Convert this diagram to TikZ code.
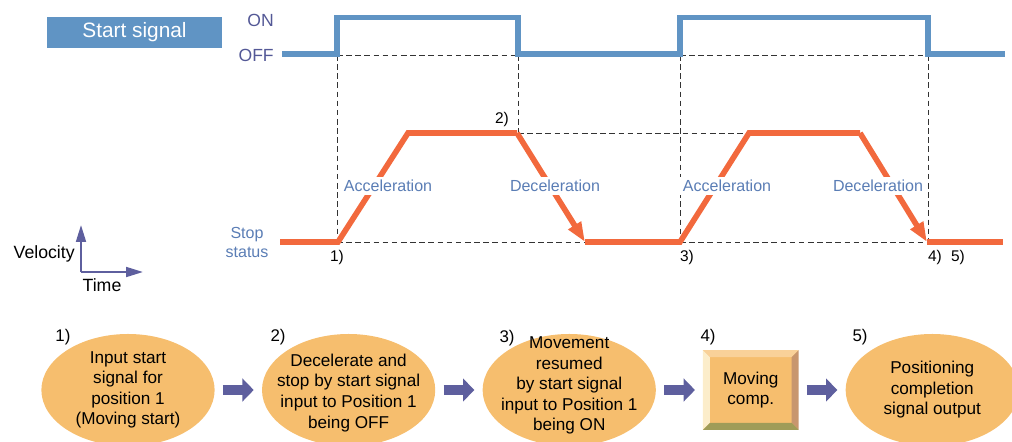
\documentclass[tikz,border=0pt]{standalone}
\usepackage{fontspec}
\setmainfont{Liberation Sans}
\usetikzlibrary{arrows.meta,positioning,shapes.geometric,calc}
\definecolor{sigblue}{HTML}{6094C4}
\definecolor{labelblue}{HTML}{5A7DB5}
\definecolor{slate}{HTML}{535896}
\definecolor{velorange}{HTML}{F2693D}
\definecolor{stepfill}{HTML}{F6BE6E}
\definecolor{flowblue}{HTML}{5E5F9E}

\begin{document}
\begin{tikzpicture}[x=0.025cm,y=-0.025cm,
  node distance=1.17cm,
  sigline/.style={line width=3.6pt,color=sigblue},
  velline/.style={line width=4pt,color=velorange},
  velarrow/.style={velline,-{Triangle[length=14pt,width=10pt]}},
  guide/.style={line width=0.6pt,color=black!80,dash pattern=on 4pt off 2.5pt},
  phase/.style={font=\fontsize{11.4}{13}\selectfont,text=labelblue,fill=white,inner sep=2.5pt},
  stepno/.style={font=\fontsize{11}{13}\selectfont,inner sep=0pt},
  stepell/.style={ellipse,fill=stepfill,minimum width=4.33cm,minimum height=2.8cm,inner sep=0pt},
  steptext/.style={align=center,font=\fontsize{12.2}{14.6}\selectfont},
  flow/.style={-{Triangle[length=8pt,width=16pt]},line width=7pt,color=flowblue,
    shorten <=5.7pt,shorten >=5.7pt},
  axis/.style={-{Triangle[length=12pt,width=7pt]},line width=1.5pt,color=flowblue}
]
  \useasboundingbox (0,0) rectangle (1012,441);
  \clip (0,0) rectangle (1012,441);

  \node[fill=sigblue,text=white,minimum width=4.375cm,minimum height=0.775cm,
    font=\fontsize{14.8}{16}\selectfont] (title) at (134.5,32.5) {Start signal};
  \node[anchor=east,text=slate,font=\fontsize{12.5}{14}\selectfont,inner sep=0pt] (on) at (274,20) {ON};
  \node[anchor=east,text=slate,font=\fontsize{12.5}{14}\selectfont,inner sep=0pt] (off) at (274,55) {OFF};

  \draw[guide] (337,55) -- (518,55) (680,55) -- (928,55);
  \draw[guide] (337,55) -- (337,242) (518,55) -- (518,133) (680,55) -- (680,242) (928,55) -- (928,242);
  \draw[guide] (518,133) -- (748,133);
  \draw[guide] (337,242) -- (585,242) (680,242) -- (928,242);

  \draw[sigline] (282,54) -- (337,54) -- (337,17.5) -- (518,17.5) -- (518,54)
    -- (680,54) -- (680,17.5) -- (928,17.5) -- (928,54) -- (1005,54);

  \coordinate (v0) at (280,242);
  \coordinate (v1) at (338,242);
  \coordinate (v2) at (408,133);
  \coordinate (v3) at (517,133);
  \coordinate (v4) at (585,242);
  \coordinate (v5) at (680,242);
  \coordinate (v6) at (749,133);
  \coordinate (v7) at (860,133);
  \coordinate (v8) at (927,242);
  \coordinate (v9) at (1003,242);
  \draw[velline] (v0) -- (v1) -- (v2) -- (v3);
  \draw[velarrow] (v3) -- (v4);
  \draw[velline] (v4) -- (v5) -- (v6) -- (v7);
  \draw[velarrow] (v7) -- (v8);
  \draw[velline] (v8) -- (v9);

  \node[phase] (acc1) at (388,186) {Acceleration};
  \node[phase] (dec1) at (555,186) {Deceleration};
  \node[phase] (acc2) at (727,186) {Acceleration};
  \node[phase] (dec2) at (878,186) {Deceleration};

  \node[align=center,text=labelblue,font=\fontsize{11.4}{13.5}\selectfont] (stop) at (247,242) {Stop\\status};
  \node[stepno] (p1) at (337,257) {1)};
  \node[stepno] (p2) at (502,119) {2)};
  \node[stepno] (p3) at (687,257) {3)};
  \node[stepno] (p4) at (935,257) {4)};
  \node[stepno] (p5) at (958,257) {5)};

  \coordinate (origin) at (81,272);
  \draw[axis] (origin) -- (81,225);
  \draw[axis] (origin) -- (143,272);
  \node[anchor=east,font=\fontsize{12.6}{14}\selectfont,inner sep=0pt] (vel) at (75,254) {Velocity};
  \node[font=\fontsize{12.6}{14}\selectfont,inner sep=0pt] (time) at (102,285) {Time};

  \node[stepell] (s1) at (128,390) {};
  \node[stepell,right=of s1] (s2) {};
  \node[stepell,right=of s2] (s3) {};
  \node[rectangle,fill=stepfill,minimum width=2.375cm,minimum height=1.975cm,right=of s3] (s4) {};
  \node[stepell,right=of s4] (s5) {};

  \fill[fill=stepfill!70!white] (s4.north west) -- (s4.north east) -- ([shift={(-7,7)}]s4.north east) -- ([shift={(7,7)}]s4.north west) -- cycle;
  \fill[fill=yellow!15!stepfill!30!white] (s4.north west) -- ([shift={(7,7)}]s4.north west) -- ([shift={(7,-7)}]s4.south west) -- (s4.south west) -- cycle;
  \fill[fill={rgb,255:red,200;green,150;blue,110}] (s4.north east) -- ([shift={(-7,7)}]s4.north east) -- ([shift={(-7,-7)}]s4.south east) -- (s4.south east) -- cycle;
  \fill[fill={rgb,255:red,160;green,156;blue,88}] (s4.south west) -- ([shift={(7,-7)}]s4.south west) -- ([shift={(-7,-7)}]s4.south east) -- (s4.south east) -- cycle;

  \node[steptext] (t1) at (s1) {Input start\\signal for\\position 1\\(Moving start)};
  \node[steptext] (t2) at ([yshift=-2]s2.center) {Decelerate and\\stop by start signal\\input to Position 1\\being OFF};
  \node[steptext] (t3) at ([yshift=3]s3.center) {Movement\\resumed\\by start signal\\input to Position 1\\being ON};
  \node[steptext] (t4) at (s4) {Moving\\comp.};
  \node[steptext] (t5) at (s5) {Positioning\\completion\\signal output};

  \node[stepno,font=\fontsize{12}{14}\selectfont] (n1) at (63,337) {1)};
  \node[stepno,font=\fontsize{12}{14}\selectfont] (n2) at (278,337) {2)};
  \node[stepno,font=\fontsize{12}{14}\selectfont] (n3) at (507,338) {3)};
  \node[stepno,font=\fontsize{12}{14}\selectfont] (n4) at (708,337) {4)};
  \node[stepno,font=\fontsize{12}{14}\selectfont] (n5) at (860,337) {5)};

  \draw[flow] (s1.east) -- (s2.west);
  \draw[flow] (s2.east) -- (s3.west);
  \draw[flow] (s3.east) -- (s4.west);
  \draw[flow] (s4.east) -- (s5.west);
\end{tikzpicture}
\end{document}
